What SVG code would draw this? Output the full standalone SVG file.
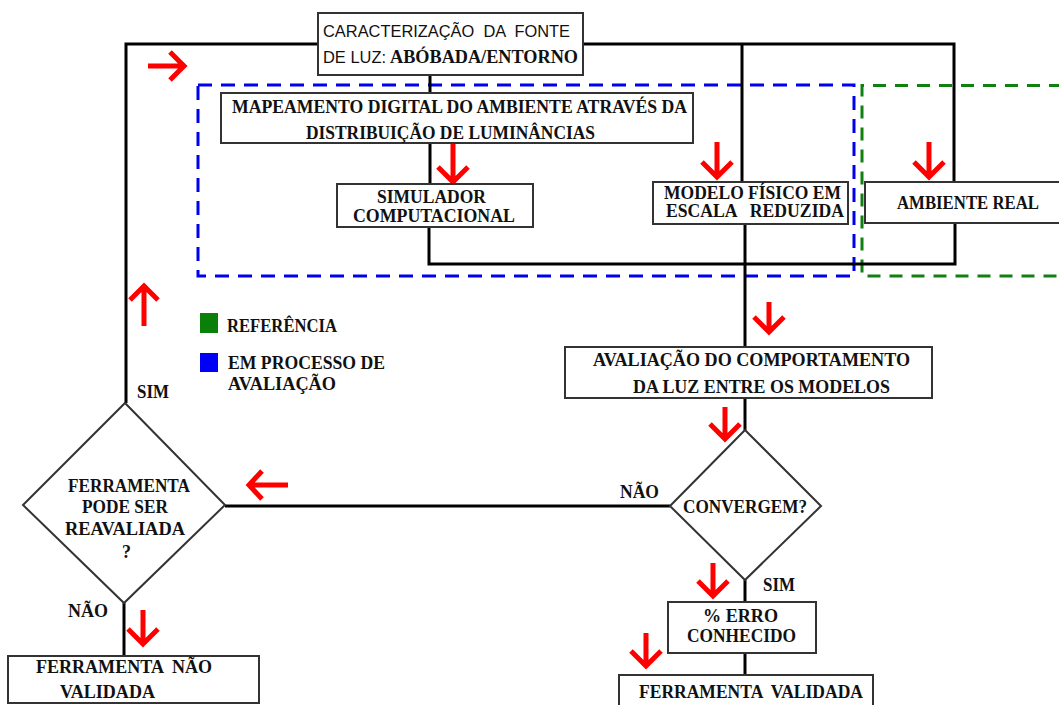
<svg xmlns="http://www.w3.org/2000/svg" width="1059" height="705" viewBox="0 0 1059 705">
<style>
.box{fill:#fff;stroke:#333;stroke-width:2}
.ln{fill:none;stroke:#000;stroke-width:3}
.t{font-family:"Liberation Serif","Times New Roman",serif;font-weight:bold;font-size:18px;fill:#111;white-space:pre}
.s{font-family:"Liberation Sans",Arial,sans-serif;font-size:17px;fill:#111;white-space:pre}
.ra{fill:none;stroke:#f00;stroke-width:5;stroke-linejoin:miter}
.blue{fill:none;stroke:#0000f0;stroke-width:3;stroke-dasharray:14 9}
.green{fill:none;stroke:#108010;stroke-width:3;stroke-dasharray:13 9}
</style>
<rect width="1059" height="705" fill="#fff"/>
<g id="groups">
<rect class="blue" x="198" y="85" width="656" height="191"/>
<path class="green" d="M1062 85.5 H862 V276 H1062"/>
</g>
<g id="connectors">
<path class="ln" d="M126 403 V44 H318"/>
<path class="ln" d="M583 44 H954 V182"/>
<path class="ln" d="M742 44 V182"/>
<path class="ln" d="M430 75 V93"/>
<path class="ln" d="M430 143 V184"/>
<path class="ln" d="M429 227 V264 H955 V223"/>
<path class="ln" d="M745 224 V347"/>
<path class="ln" d="M745 398 V430"/>
<path class="ln" d="M670 506 H225"/>
<path class="ln" d="M745 580 V602"/>
<path class="ln" d="M745 653 V675"/>
<path class="ln" d="M124 603 V656"/>
</g>
<g id="red-arrows">
<path class="ra" d="M148 66 H181 M170 52 L184 66 L170 80"/>
<path class="ra" d="M144 326 V289 M130 300 L144 286 L158 300"/>
<path class="ra" d="M453 143 V179 M438 167 L453 182 L468 167"/>
<path class="ra" d="M717 142 V174 M702 162 L717 177 L732 162"/>
<path class="ra" d="M929 142 V174 M914 162 L929 177 L944 162"/>
<path class="ra" d="M769 302 V329 M754 317 L769 332 L784 317"/>
<path class="ra" d="M725 407 V436 M710 424 L725 439 L740 424"/>
<path class="ra" d="M288 485 H252 M262 471 L249 485 L262 499"/>
<path class="ra" d="M713 563 V593 M698 581 L713 596 L728 581"/>
<path class="ra" d="M646 633 V663 M631 651 L646 666 L661 651"/>
<path class="ra" d="M143 610 V641 M128 629 L143 644 L158 629"/>
</g>
<g id="fonte">
<rect class="box" x="318" y="13" width="265" height="62"/>
<text class="s" x="323" y="37" textLength="247" lengthAdjust="spacingAndGlyphs">CARACTERIZAÇÃO  DA  FONTE</text>
<text class="s" x="323" y="63" textLength="63" lengthAdjust="spacingAndGlyphs">DE LUZ:</text>
<text class="t" x="390" y="63" font-size="19" textLength="188" lengthAdjust="spacingAndGlyphs">ABÓBADA/ENTORNO</text>
</g>
<g id="mapeamento">
<rect class="box" x="221" y="93" width="472" height="50"/>
<text class="t" x="232" y="113" font-size="19" textLength="455" lengthAdjust="spacingAndGlyphs">MAPEAMENTO DIGITAL DO AMBIENTE ATRAVÉS DA</text>
<text class="t" x="306" y="139" font-size="19" textLength="289" lengthAdjust="spacingAndGlyphs">DISTRIBUIÇÃO DE LUMINÂNCIAS</text>
</g>
<g id="simulador">
<rect class="box" x="337" y="184" width="196" height="43"/>
<text class="t" x="377" y="203" textLength="109" lengthAdjust="spacingAndGlyphs">SIMULADOR</text>
<text class="t" x="353" y="222" textLength="162" lengthAdjust="spacingAndGlyphs">COMPUTACIONAL</text>
</g>
<g id="modelo">
<rect class="box" x="653" y="182" width="195" height="42"/>
<text class="t" x="664" y="199" textLength="177" lengthAdjust="spacingAndGlyphs">MODELO FÍSICO EM</text>
<text class="t" x="666" y="217" textLength="178" lengthAdjust="spacingAndGlyphs">ESCALA   REDUZIDA</text>
</g>
<g id="ambiente">
<rect class="box" x="865" y="182" width="200" height="41"/>
<text class="t" x="897" y="209" textLength="142" lengthAdjust="spacingAndGlyphs">AMBIENTE REAL</text>
</g>
<g id="legenda">
<rect x="200" y="313" width="18" height="20" fill="#0a800a"/>
<rect x="200" y="353" width="18" height="19" fill="#0000f8"/>
<text class="t" x="227" y="332" font-size="17" textLength="110" lengthAdjust="spacingAndGlyphs">REFERÊNCIA</text>
<text class="t" x="228" y="369" font-size="17" textLength="157" lengthAdjust="spacingAndGlyphs">EM PROCESSO DE</text>
<text class="t" x="228" y="390" font-size="17" textLength="108" lengthAdjust="spacingAndGlyphs">AVALIAÇÃO</text>
</g>
<g id="avaliacao">
<rect class="box" x="565" y="347" width="367" height="51"/>
<text class="t" x="593" y="366" textLength="317" lengthAdjust="spacingAndGlyphs">AVALIAÇÃO DO COMPORTAMENTO</text>
<text class="t" x="633" y="393" textLength="257" lengthAdjust="spacingAndGlyphs">DA LUZ ENTRE OS MODELOS</text>
</g>
<g id="convergem">
<polygon class="box" points="745,430 821,506 745,580 670,506"/>
<text class="t" x="683" y="513" font-size="17" textLength="124" lengthAdjust="spacingAndGlyphs">CONVERGEM?</text>
<text class="t" x="620" y="498" font-size="17" textLength="39" lengthAdjust="spacingAndGlyphs">NÃO</text>
<text class="t" x="763" y="591" font-size="17" textLength="32" lengthAdjust="spacingAndGlyphs">SIM</text>
</g>
<g id="reavaliada">
<polygon class="box" points="125,403 225,505 124,603 23,505"/>
<text class="t" x="68" y="492" font-size="17" textLength="122" lengthAdjust="spacingAndGlyphs">FERRAMENTA</text>
<text class="t" x="82" y="513" font-size="17" textLength="86" lengthAdjust="spacingAndGlyphs">PODE SER</text>
<text class="t" x="65" y="535" font-size="17" textLength="120" lengthAdjust="spacingAndGlyphs">REAVALIADA</text>
<text class="t" x="122" y="558" font-size="17">?</text>
<text class="t" x="137" y="398" font-size="17" textLength="32" lengthAdjust="spacingAndGlyphs">SIM</text>
<text class="t" x="68" y="617" font-size="17" textLength="40" lengthAdjust="spacingAndGlyphs">NÃO</text>
</g>
<g id="erro">
<rect class="box" x="668" y="602" width="148" height="51"/>
<text class="t" x="703" y="622" font-size="17" textLength="75" lengthAdjust="spacingAndGlyphs">% ERRO</text>
<text class="t" x="687" y="642" font-size="17" textLength="109" lengthAdjust="spacingAndGlyphs">CONHECIDO</text>
</g>
<g id="nao-validada">
<rect class="box" x="8" y="656" width="251" height="47"/>
<text class="t" x="36" y="673" font-size="17" textLength="176" lengthAdjust="spacingAndGlyphs">FERRAMENTA  NÃO</text>
<text class="t" x="60" y="698" font-size="17" textLength="95" lengthAdjust="spacingAndGlyphs">VALIDADA</text>
</g>
<g id="validada">
<rect class="box" x="619" y="675" width="254" height="40"/>
<text class="t" x="639" y="698" font-size="17" textLength="224" lengthAdjust="spacingAndGlyphs">FERRAMENTA  VALIDADA</text>
</g>
</svg>
